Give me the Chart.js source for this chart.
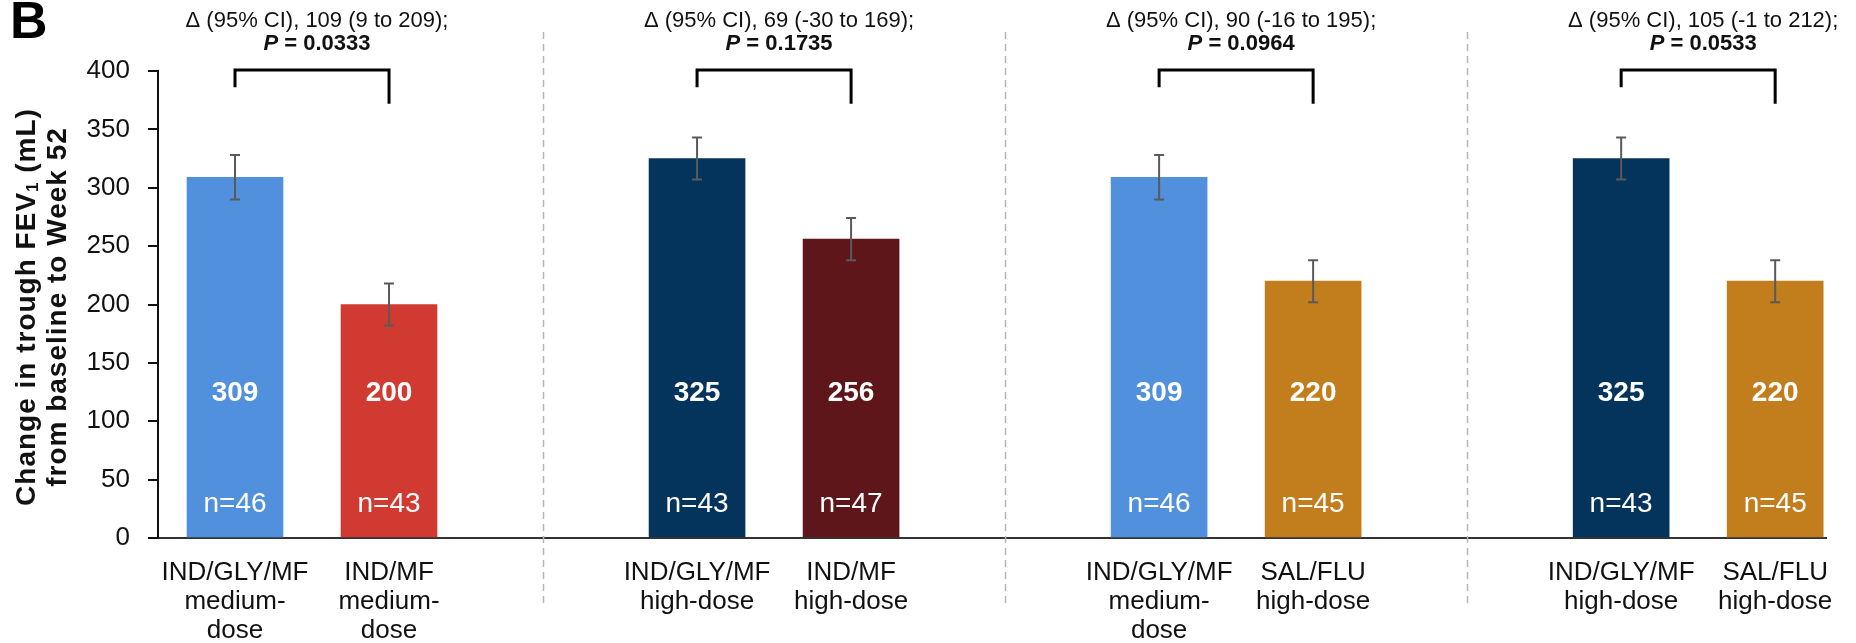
<!DOCTYPE html>
<html>
<head>
<meta charset="utf-8">
<script src="https://cdn.jsdelivr.net/npm/chart.js@4.4.1/dist/chart.umd.min.js"></script>
<style>
  html, body { margin: 0; padding: 0; background: #ffffff; }
  #wrap { width: 1856px; height: 643px; position: relative; }
</style>
</head>
<body>
<div id="wrap"><canvas id="fev" width="1856" height="643"></canvas></div>
<script>
// Bar slots on the x axis: two bars per comparison, one empty slot between comparisons
const barSlots = [0, 1, 3, 4, 6, 7, 9, 10];
const groupDividerSlots = [2, 5, 8];

const treatments = [
  ["IND/GLY/MF", "medium-", "dose"],
  ["IND/MF", "medium-", "dose"],
  ["IND/GLY/MF", "high-dose"],
  ["IND/MF", "high-dose"],
  ["IND/GLY/MF", "medium-", "dose"],
  ["SAL/FLU", "high-dose"],
  ["IND/GLY/MF", "high-dose"],
  ["SAL/FLU", "high-dose"]
];

// Change in trough FEV1 (mL) from baseline to Week 52, with standard errors
const fevChange = [309, 200, 325, 256, 309, 220, 325, 220];
const fevError = [19, 18, 18, 18, 19, 18, 18, 18];
const sampleSizes = [46, 43, 43, 47, 46, 45, 43, 45];

const barColors = ["#5090DD", "#D13A31", "#04345C", "#5E161A", "#5090DD", "#C27D1D", "#04345C", "#C27D1D"];

const deltaLabels = [
  "\u0394 (95% CI), 109 (9 to 209);",
  "\u0394 (95% CI), 69 (-30 to 169);",
  "\u0394 (95% CI), 90 (-16 to 195);",
  "\u0394 (95% CI), 105 (-1 to 212);"
];
const pValues = ["0.0333", "0.1735", "0.0964", "0.0533"];

const yTickValues = [0, 50, 100, 150, 200, 250, 300, 350, 400];

const FONT = "'Liberation Sans', Arial, Helvetica, sans-serif";

// Draws a run of text pieces (each with its own font and baseline shift) centred on x
function drawPieces(ctx, pieces, cx, cy) {
  let total = 0;
  const widths = pieces.map(p => { ctx.font = p.font; const w = ctx.measureText(p.text).width; total += w; return w; });
  let x = cx - total / 2;
  pieces.forEach((p, i) => {
    ctx.font = p.font;
    ctx.fillText(p.text, x, cy + (p.dy || 0));
    x += widths[i];
  });
}

const overlayPlugin = {
  id: 'fevOverlay',
  beforeDatasetsDraw(chart) {
    const ctx = chart.ctx;
    const xs = chart.scales.x;
    ctx.save();
    ctx.strokeStyle = '#b5b5b5';
    ctx.lineWidth = 1.5;
    ctx.setLineDash([7, 5]);
    groupDividerSlots.forEach(v => {
      const x = Math.round(xs.getPixelForValue(v)) + 0.5;
      ctx.beginPath();
      ctx.moveTo(x, 32);
      ctx.lineTo(x, 604);
      ctx.stroke();
    });
    ctx.restore();
  },
  afterDatasetsDraw(chart) {
    const ctx = chart.ctx;
    const ys = chart.scales.y;
    const bars = chart.getDatasetMeta(0).data;
    ctx.save();

    // error bars
    ctx.strokeStyle = '#5a5a5a';
    ctx.lineWidth = 2;
    bars.forEach((bar, i) => {
      const yTop = ys.getPixelForValue(fevChange[i] + fevError[i]);
      const yBot = ys.getPixelForValue(fevChange[i] - fevError[i]);
      ctx.beginPath();
      ctx.moveTo(bar.x, yTop); ctx.lineTo(bar.x, yBot);
      ctx.moveTo(bar.x - 5, yTop); ctx.lineTo(bar.x + 5, yTop);
      ctx.moveTo(bar.x - 5, yBot); ctx.lineTo(bar.x + 5, yBot);
      ctx.stroke();
    });

    // values and sample sizes inside the bars
    ctx.fillStyle = '#ffffff';
    ctx.textAlign = 'center';
    ctx.textBaseline = 'middle';
    bars.forEach((bar, i) => {
      ctx.font = 'bold 28px ' + FONT;
      ctx.fillText(String(fevChange[i]), bar.x, ys.getPixelForValue(124));
      ctx.font = '28px ' + FONT;
      ctx.fillText('n=' + sampleSizes[i], bar.x, ys.getPixelForValue(29));
    });

    // comparison brackets and their annotations
    for (let g = 0; g < 4; g++) {
      const xl = bars[2 * g].x, xr = bars[2 * g + 1].x;
      ctx.strokeStyle = '#000000';
      ctx.lineWidth = 3;
      ctx.lineJoin = 'miter';
      ctx.beginPath();
      ctx.moveTo(xl, ys.getPixelForValue(386));
      ctx.lineTo(xl, ys.getPixelForValue(400) - 1);
      ctx.lineTo(xr, ys.getPixelForValue(400) - 1);
      ctx.lineTo(xr, ys.getPixelForValue(372));
      ctx.stroke();

      const cx = (xl + xr) / 2 + 5;
      ctx.fillStyle = '#111111';
      ctx.textAlign = 'left';
      ctx.textBaseline = 'middle';
      drawPieces(ctx, [{ text: deltaLabels[g], font: '22px ' + FONT }], cx, 21);
      drawPieces(ctx, [
        { text: 'P', font: 'italic bold 22px ' + FONT },
        { text: ' = ' + pValues[g], font: 'bold 22px ' + FONT }
      ], cx, 44);
    }

    // axis title with subscript
    ctx.save();
    ctx.translate(0, 307);
    ctx.rotate(-Math.PI / 2);
    ctx.fillStyle = '#111111';
    ctx.textAlign = 'left';
    ctx.textBaseline = 'middle';
    if ('letterSpacing' in ctx) ctx.letterSpacing = '1px';
    drawPieces(ctx, [
      { text: 'Change in trough FEV', font: 'bold 28px ' + FONT },
      { text: '1', font: 'bold 17px ' + FONT, dy: 6 },
      { text: ' (mL)', font: 'bold 28px ' + FONT }
    ], 0, 27);
    drawPieces(ctx, [{ text: 'from baseline to Week 52', font: 'bold 28px ' + FONT }], 0, 58);
    ctx.restore();

    // panel letter
    ctx.fillStyle = '#000000';
    ctx.textAlign = 'left';
    ctx.textBaseline = 'alphabetic';
    ctx.font = 'bold 52px ' + FONT;
    ctx.fillText('B', 10, 38);

    ctx.restore();
  }
};

new Chart(document.getElementById('fev'), {
  type: 'bar',
  data: {
    datasets: [{
      data: barSlots.map((slot, i) => ({ x: slot, y: fevChange[i] })),
      backgroundColor: barColors,
      borderWidth: 0,
      barThickness: 96
    }]
  },
  options: {
    responsive: false,
    animation: false,
    devicePixelRatio: 1,
    layout: { padding: { top: 71, right: 30, left: 0, bottom: 0 } },
    plugins: { legend: { display: false }, tooltip: { enabled: false } },
    scales: {
      x: {
        type: 'linear',
        offset: false,
        min: -0.5,
        max: 10.33,
        afterBuildTicks: s => { s.ticks = barSlots.map(v => ({ value: v })); },
        afterFit: s => { s.height = 105; },
        grid: { display: false, drawTicks: false, offset: false },
        border: { display: true, color: '#333333', width: 2 },
        ticks: {
          autoSkip: false,
          maxRotation: 0,
          minRotation: 0,
          padding: 21,
          color: '#111111',
          font: { family: FONT, size: 26, lineHeight: 1.1 },
          callback: v => { const i = barSlots.indexOf(v); return i >= 0 ? treatments[i] : ''; }
        }
      },
      y: {
        min: 0,
        max: 400,
        afterBuildTicks: s => { s.ticks = yTickValues.map(v => ({ value: v })); },
        afterFit: s => { s.width = 158; },
        grid: { display: true, drawOnChartArea: false, drawTicks: true, tickLength: 10, color: '#111111', lineWidth: 2 },
        border: { display: true, color: '#111111', width: 2 },
        ticks: {
          padding: 18,
          color: '#111111',
          font: { family: FONT, size: 26 }
        }
      }
    }
  },
  plugins: [overlayPlugin]
});
</script>
</body>
</html>
